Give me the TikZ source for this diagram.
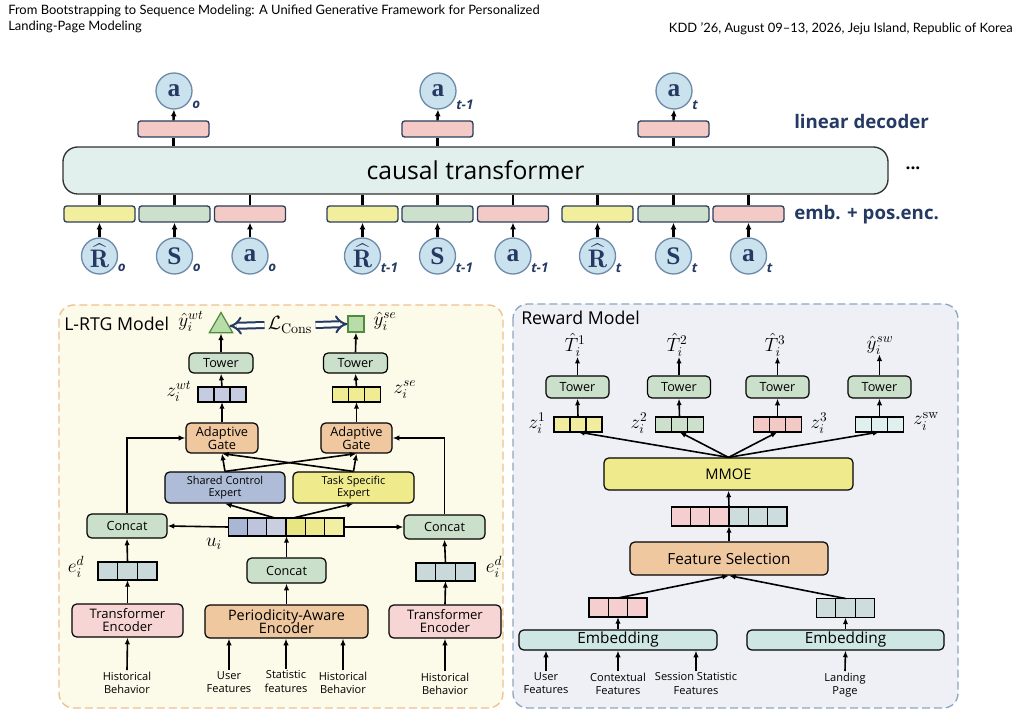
\documentclass[tikz,border=0pt]{standalone}
\usepackage{amsmath}
\usepackage{fontspec}
\newfontfamily\cmc{Open Sans}
\newfontfamily\hdr{Lato}
\newfontfamily\serb{Liberation Serif}
\usetikzlibrary{arrows.meta,shapes.geometric,calc}
\definecolor{cYel}{HTML}{F1EE9E}
\definecolor{cGrn}{HTML}{CDE0CC}
\definecolor{cPnk}{HTML}{F3CAC6}
\definecolor{cTr}{HTML}{E1F0EC}
\definecolor{cCirc}{HTML}{C9E2EE}
\definecolor{cCircB}{HTML}{6E8BAA}
\definecolor{cNavy}{HTML}{253A63}
\definecolor{cBoxB}{HTML}{2C3E5C}
\definecolor{cLfill}{HTML}{FCFAE8}
\definecolor{cLdash}{HTML}{F0C190}
\definecolor{cRfill}{HTML}{EFF0F6}
\definecolor{cRdash}{HTML}{8EA6C4}
\definecolor{cTow}{HTML}{CBE0CB}
\definecolor{cOrg}{HTML}{EFC89F}
\definecolor{cShr}{HTML}{AFBCD8}
\definecolor{cTsk}{HTML}{EFEB8C}
\definecolor{cTenc}{HTML}{F8D5D5}
\definecolor{cEmb}{HTML}{CFE7E4}
\definecolor{cZwt}{HTML}{C5CCE2}
\definecolor{cZse}{HTML}{EFEC94}
\definecolor{uA}{HTML}{A9B6D4}
\definecolor{uB}{HTML}{BCC5DD}
\definecolor{uC}{HTML}{C9CFE1}
\definecolor{uD}{HTML}{E8E683}
\definecolor{uE}{HTML}{ECE98F}
\definecolor{uF}{HTML}{F1EFA4}
\definecolor{cE}{HTML}{C9D9DA}
\definecolor{zA}{HTML}{F0EE9E}
\definecolor{zB}{HTML}{CDE0CC}
\definecolor{zC}{HTML}{F3C9C5}
\definecolor{zD}{HTML}{E0F0EE}
\definecolor{vP}{HTML}{F5CFD0}
\definecolor{vG}{HTML}{CDDCDC}
\definecolor{cOut}{HTML}{B9DDA9}
\definecolor{cOutB}{HTML}{4E8A3F}
\newcommand\fs[1]{\fontsize{#1}{1.2\dimexpr #1pt\relax}\selectfont}
\newcommand\cvec[7]{%
  \node[minimum width=#4*#5*0.75pt, minimum height=#6*0.75pt, inner sep=0pt, outer sep=0pt] (#1) at (#2,#3) {};
  \foreach \cc [count=\ii] in {#7} {
    \node[draw=black, line width=0.9pt, fill=\cc, minimum width=#5*0.75pt, minimum height=#6*0.75pt, inner sep=0pt, outer sep=0pt] (#1-\ii) at ({#2-#4*#5/2+(\ii-0.5)*#5},#3) {};
  }%
}
\tikzset{
  sz/.style 2 args={minimum width=#1*0.75pt, minimum height=#2*0.75pt},
  circ/.style={circle, draw=cCircB, line width=1pt, fill=cCirc, minimum size=36*0.75pt, inner sep=0pt, font=\serb\bfseries\fs{19}, text=cNavy},
  subl/.style={anchor=west, font=\cmc\bfseries\itshape\fs{10}, text=cNavy, inner sep=0pt},
  ebox/.style={draw=cBoxB, line width=1pt, rounded corners=2pt, inner sep=0pt, sz={71}{16}},
  tarr/.style={line width=1.8pt, -{Latex[length=5pt,width=4.5pt]}},
  tlin/.style={line width=1.8pt},
  tb/.style={draw=black, line width=0.9pt, rounded corners=3.5pt, align=center, inner sep=1pt, font=\cmc\fs{9.5}},
  arr/.style={line width=1.2pt, -{Latex[length=5pt,width=4pt]}},
  inp/.style={align=center, font=\cmc\fs{8.3}, inner sep=1pt, anchor=north},
  mlab/.style={inner sep=0pt, font=\fs{14.5}},
  dbl/.style={double=white, double distance=3pt, line width=1.5pt, draw=cNavy, -{Implies[length=6pt]}},
}
\begin{document}
\begin{tikzpicture}[x=0.75pt,y=-0.75pt]
\useasboundingbox (0,0) rectangle (1021,716);
\fill[white] (0,0) rectangle (1021,716);
% header
\node[anchor=north west, align=left, inner sep=0pt, font=\hdr\fontsize{9.7}{12}\selectfont] (hl) at (8,5) {From Bootstrapping to Sequence Modeling: A Unified Generative Framework for Personalized\\Landing-Page Modeling};
\node[anchor=north east, inner sep=0pt, font=\hdr\fontsize{9.7}{12}\selectfont] (hr) at (1013,22) {KDD ’26, August 09–13, 2026, Jeju Island, Republic of Korea};

% ===== top: decision transformer =====
\node[draw=black!80, line width=1pt, fill=cTr, rounded corners=11pt, sz={825}{47}, font=\cmc\fs{18.5}] (ct) at (475.5,170.5) {causal transformer};
\node[font=\cmc\bfseries\fs{13}] (dots) at (913,168) {...};
\node[anchor=west, font=\cmc\bfseries\fs{14}, text=cNavy, inner sep=0pt] (ld) at (794,122) {linear decoder};
\node[anchor=west, font=\cmc\bfseries\fs{14}, text=cNavy, inner sep=0pt] (pe) at (794,215) {emb. + pos.enc.};

\foreach \nm/\xx/\sb in {0/174/o, 1/438/t-1, 2/674/t} {
  \node[ebox, fill=cPnk] (dec\nm) at (\xx-0.5,129) {};
  \node[circ] (out\nm) at (\xx,91) {a};
  \node[subl] (outs\nm) at (\xx+18,105) {\sb};
  \draw[tlin] (ct.north -| dec\nm) -- (dec\nm.south);
  \draw[tarr] (dec\nm.north) -- (out\nm.south);
}
\foreach \nm/\xx/\col/\lab/\sb in {
  r0/99.5/cYel/{$\widehat{\mathbf{R}}$}/o, s0/174.5/cGrn/S/o, a0/250/cPnk/a/o,
  r1/362.5/cYel/{$\widehat{\mathbf{R}}$}/t-1, s1/437.5/cGrn/S/t-1, a1/513/cPnk/a/t-1,
  r2/597.5/cYel/{$\widehat{\mathbf{R}}$}/t, s2/673.5/cGrn/S/t, a2/748.5/cPnk/a/t} {
  \node[ebox, fill=\col] (e\nm) at (\xx,214) {};
  \node[circ] (i\nm) at (\xx,256) {\lab};
  \node[subl] (is\nm) at (\xx+18,268) {\sb};
  \draw[tlin] (e\nm.north) -- (ct.south -| e\nm);
  \draw[tarr] (i\nm.north) -- (e\nm.south);
}

% ===== panels =====
\draw[cLdash, line width=1pt, dash pattern=on 6pt off 3pt, fill=cLfill, rounded corners=11pt] (59,305) rectangle (503,708);
\draw[cRdash, line width=1pt, dash pattern=on 6pt off 3pt, fill=cRfill, rounded corners=11pt] (513,304) rectangle (958,708);

% ===== L-RTG =====
\node[anchor=west, inner sep=0pt, font=\cmc\fs{13.3}] (lt) at (64,324) {L-RTG Model};
\node[mlab] (ywt) at (191,321) {$\hat{y}_i^{wt}$};
\node[regular polygon, regular polygon sides=3, draw=cOutB, fill=cOut, line width=0.9pt, minimum size=27*0.75pt, inner sep=0pt] (tri) at (221,326) {};
\node[mlab, font=\fs{15}] (lc) at (290,325) {$\mathcal{L}_{\text{Cons}}$};
\node[draw=cOutB, fill=cOut, line width=0.9pt, sz={16}{16}, inner sep=0pt] (sq) at (356,324) {};
\node[mlab] (yse) at (385,321) {$\hat{y}_i^{se}$};
\draw[dbl] (lc.west) ++(-3,0) -- (tri.east);
\draw[dbl] (lc.east) ++(3,0) -- (sq.west);

\node[tb, fill=cTow, sz={64}{20}] (towL) at (221,363) {Tower};
\node[tb, fill=cTow, sz={64}{20}] (towR) at (355.5,363) {Tower};
\cvec{zwt}{222}{394.5}{3}{16}{15}{cZwt,cZwt,cZwt}
\cvec{zse}{356.5}{394.5}{3}{16}{15}{cZse,cZse,cZse}
\node[mlab] (zwtl) at (179,391) {$z_i^{wt}$};
\node[mlab] (zsel) at (405,390) {$z_i^{se}$};
\node[tb, fill=cOrg, sz={72}{30}, inner sep=0pt, font=\cmc\fs{9.6}] (gL) at (222,438) {Adaptive\\[-2pt]Gate};
\node[tb, fill=cOrg, sz={71}{30}, inner sep=0pt, font=\cmc\fs{9.6}] (gR) at (356.5,438) {Adaptive\\[-2pt]Gate};
\node[tb, fill=cShr, sz={120}{31}, inner sep=0pt, font=\cmc\fs{8.2}] (sh) at (225,487.5) {Shared Control\\[-1pt]Expert};
\node[tb, fill=cTsk, sz={121}{31}, inner sep=0pt, font=\cmc\fs{8.2}] (ts) at (353.5,487.5) {Task Specific\\[-1pt]Expert};
\cvec{u}{286}{527}{6}{19.3}{18}{uA,uB,uC,uD,uE,uF}
\node[mlab] (ul) at (214,544) {$u_i$};
\node[tb, fill=cTow, sz={80}{24}] (cL) at (127,526) {Concat};
\node[tb, fill=cTow, sz={81}{24}] (cR) at (444.5,527) {Concat};
\node[tb, fill=cTow, sz={79}{25}] (cC) at (286.5,570.5) {Concat};
\cvec{eL}{127.5}{571}{3}{19.7}{18}{cE,cE,cE}
\cvec{eR}{445.5}{572}{3}{19.7}{18}{cE,cE,cE}
\node[mlab] (eLl) at (76,567) {$e_i^d$};
\node[mlab] (eRl) at (494,567) {$e_i^d$};
\node[tb, fill=cTenc, sz={111}{33}, inner sep=0pt, font=\cmc\fs{9.8}] (tL) at (127.5,620.5) {Transformer\\[-2pt]Encoder};
\node[tb, fill=cTenc, sz={112}{33}, inner sep=0pt, font=\cmc\fs{9.8}] (tR) at (445,621.5) {Transformer\\[-2pt]Encoder};
\node[tb, fill=cOrg, sz={163}{33}, inner sep=0pt, font=\cmc\fs{10.8}] (pae) at (286.5,621.5) {Periodicity-Aware\\[-3pt]Encoder};
\node[inp] (hb1) at (127,670) {Historical\\Behavior};
\node[inp] (uf1) at (229,670) {User\\Features};
\node[inp] (sf1) at (286,669) {Statistic\\features};
\node[inp] (hb2) at (343,670) {Historical\\Behavior};
\node[inp] (hb3) at (445,671) {Historical\\Behavior};

\draw[arr] (towL.north) -- (tri.south);
\draw[arr] (towR.north) -- (sq.south);
\draw[arr] (zwt.north) -- (towL.south);
\draw[arr] (zse.north) -- (towR.south);
\draw[arr] (gL.north) -- (zwt.south);
\draw[arr] (gR.north) -- (zse.south);
\draw[arr] (sh.north) -- (gL.south);
\draw[arr] (sh.north) -- (gR.south);
\draw[arr] (ts.north) -- (gL.south);
\draw[arr] (ts.north) -- (gR.south);
\draw[arr] ($(u.north)+(-11,0)$) -- (sh.south);
\draw[arr] ($(u.north)+(7,0)$) -- (ts.south);
\draw[arr] (u.west) -- (cL.east);
\draw[arr] (u.east) -- (cR.west);
\draw[arr] (cL.north) |- (gL.west);
\draw[arr] (cR.north) |- (gR.east);
\draw[arr] (cC.north) -- (u.south -| cC.north);
\draw[arr] (pae.north) -- (cC.south);
\draw[arr] (eL.north) -- (cL.south);
\draw[arr] (eR.north) -- (cR.south);
\draw[arr] (tL.north) -- (eL.south);
\draw[arr] (tR.north) -- (eR.south);
\draw[arr] (hb1.north) -- (tL.south);
\draw[arr] (hb3.north) -- (tR.south);
\draw[arr] (uf1.north) -- (uf1.north |- pae.south);
\draw[arr] (sf1.north) -- (sf1.north |- pae.south);
\draw[arr] (hb2.north) -- (hb2.north |- pae.south);

% ===== Reward model =====
\node[anchor=west, inner sep=0pt, font=\cmc\fs{13.3}] (rt) at (521,318) {Reward Model};
\node[mlab] (T1) at (575,345) {$\hat{T}_i^1$};
\node[mlab] (T2) at (677,345) {$\hat{T}_i^2$};
\node[mlab] (T3) at (775,345) {$\hat{T}_i^3$};
\node[mlab] (T4) at (880,345) {$\hat{y}_i^{sw}$};
\foreach \k/\xx in {1/577.5, 2/679, 3/777.5, 4/879.5} {
  \node[tb, fill=cTow, sz={63}{22}] (rtow\k) at (\xx,387) {Tower};
}
\cvec{rz1}{578}{424.5}{3}{16}{15}{zA,zA,zA}
\cvec{rz2}{679.5}{424.5}{3}{16}{15}{zB,zB,zB}
\cvec{rz3}{777.5}{424.5}{3}{16}{15}{zC,zC,zC}
\cvec{rz4}{879.5}{424.5}{3}{16}{15}{zD,zD,zD}
\node[mlab] (rz1l) at (537,423) {$z_i^1$};
\node[mlab] (rz2l) at (639,423) {$z_i^2$};
\node[mlab] (rz3l) at (819,423) {$z_i^3$};
\node[mlab] (rz4l) at (926,421) {$z_i^{\mathrm{sw}}$};
\node[tb, fill=cTsk, sz={249}{32}, font=\cmc\fs{11}] (mm) at (728.5,474) {MMOE};
\cvec{v6}{729}{516.5}{6}{19.3}{19}{vP,vP,vP,vG,vG,vG}
\node[tb, fill=cOrg, sz={198}{33}, font=\cmc\fs{11.5}] (fsel) at (729,558.5) {Feature Selection};
\cvec{vL}{618}{607.5}{3}{19.3}{19}{vP,vP,vP}
\cvec{vR}{845.5}{608}{3}{19.3}{19}{vG,vG,vG}
\node[tb, fill=cEmb, sz={198}{20}, font=\cmc\fs{11.5}] (embL) at (618,640) {Embedding};
\node[tb, fill=cEmb, sz={197}{20}, font=\cmc\fs{11.5}] (embR) at (845.5,640) {Embedding};
\node[inp] (uf2) at (546,671) {User\\Features};
\node[inp] (cf2) at (618,671) {Contextual\\Features};
\node[inp] (ss2) at (696,671) {Session Statistic\\Features};
\node[inp] (lp2) at (845,671) {Landing\\Page};

\foreach \k in {1,2,3,4} {
  \draw[arr] (rtow\k.north) -- (T\k.south -| rtow\k.north);
  \draw[arr] (rz\k.north) -- (rtow\k.south);
  \draw[arr] (mm.north) -- (rz\k.south);
}
\draw[arr] (v6.north) -- (mm.south);
\draw[arr] (fsel.north) -- (v6.south);
\draw[arr] (vL.north) -- (fsel.south);
\draw[arr] (vR.north) -- (fsel.south);
\draw[arr] (embL.north) -- (vL.south);
\draw[arr] (embR.north) -- (vR.south);
\draw[arr] (uf2.north) -- (uf2.north |- embL.south);
\draw[arr] (cf2.north) -- (cf2.north |- embL.south);
\draw[arr] (ss2.north) -- (ss2.north |- embL.south);
\draw[arr] (lp2.north) -- (embR.south);
\end{tikzpicture}
\end{document}
